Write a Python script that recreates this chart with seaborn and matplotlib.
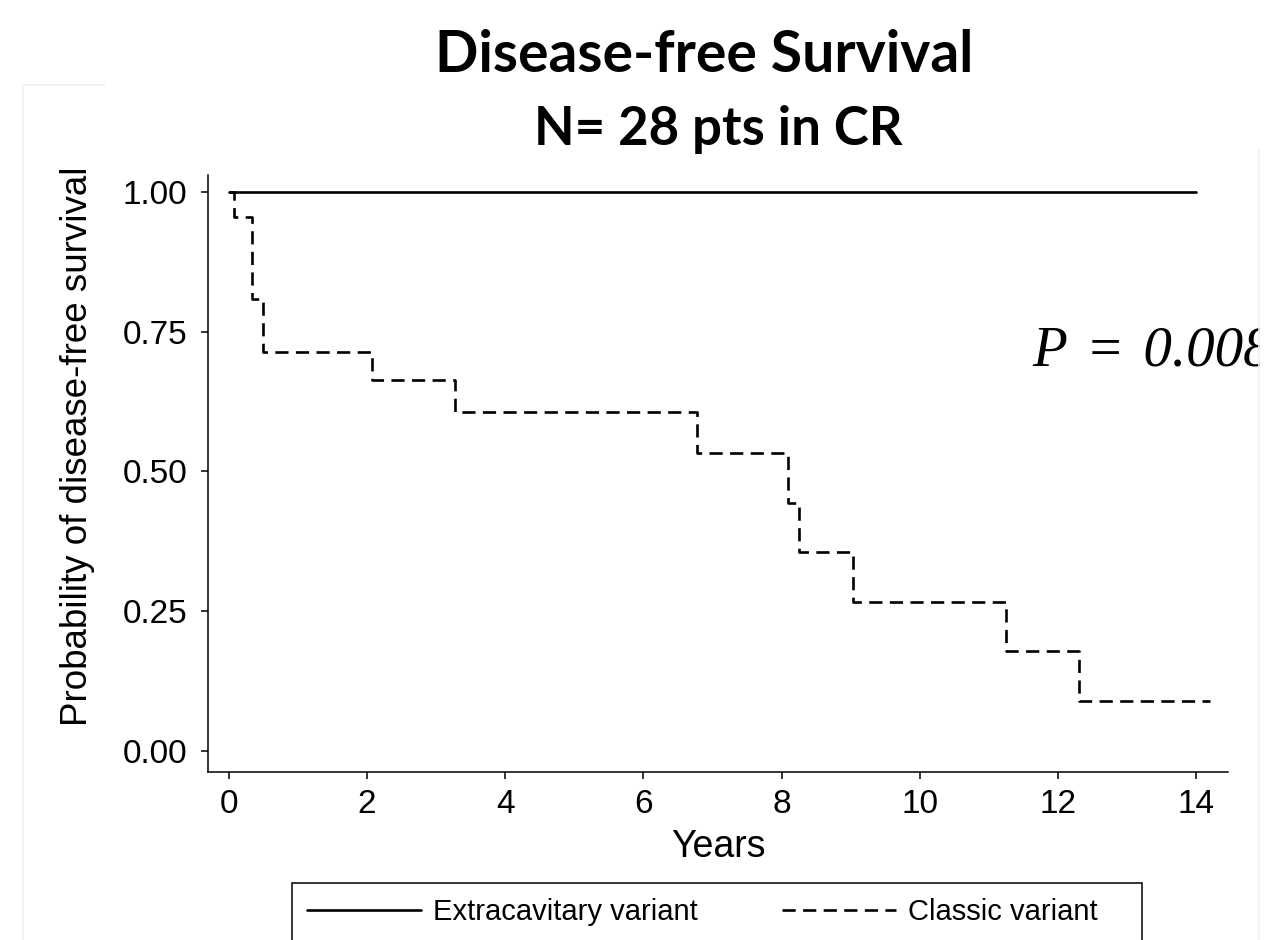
import pandas as pd
import seaborn as sns
import matplotlib.pyplot as plt
from matplotlib.lines import Line2D
from matplotlib.patches import Rectangle

# Kaplan-Meier step values
groups = ["Extracavitary variant", "Classic variant"]
extra_years = [0.0, 14.0]
extra_surv = [1.0, 1.0]
classic_years = [0.0, 0.07, 0.33, 0.50, 2.07, 3.27, 6.78, 8.10, 8.25, 9.03, 11.25, 12.30, 14.20]
classic_surv = [1.0, 0.955, 0.809, 0.714, 0.664, 0.607, 0.533, 0.444, 0.355, 0.266, 0.178, 0.089, 0.089]

x_ticks = [0, 2, 4, 6, 8, 10, 12, 14]
y_ticks = [0.0, 0.25, 0.50, 0.75, 1.0]
y_tick_labels = ["0.00", "0.25", "0.50", "0.75", "1.00"]

df = pd.concat([
    pd.DataFrame({"years": extra_years, "surv": extra_surv, "group": groups[0]}),
    pd.DataFrame({"years": classic_years, "surv": classic_surv, "group": groups[1]}),
])

sns.set_style("ticks")
plt.rcParams["font.family"] = ["Liberation Sans", "DejaVu Sans"]
plt.rcParams.update({"text.color": "black", "axes.labelcolor": "black",
                     "xtick.color": "black", "ytick.color": "black"})

W, H = 1282, 940
fig = plt.figure(figsize=(W / 100, H / 100), dpi=100)
ax = fig.add_axes([208 / W, 1 - 772 / H, (1228 - 208) / W, (772 - 175) / H])

dash_styles = {groups[0]: "", groups[1]: (5, 2.8)}
sns.lineplot(
    data=df, x="years", y="surv", hue="group", style="group",
    hue_order=groups, style_order=groups, palette=["black", "black"],
    dashes=dash_styles, drawstyle="steps-post", estimator=None, sort=False,
    linewidth=1.9, legend=False, ax=ax,
)

ax.set_xlim(-0.3, 14.46)
ax.set_ylim(-0.0375, 1.03)
ax.set_xticks(x_ticks)
ax.set_yticks(y_ticks)
ax.set_yticklabels(y_tick_labels)
sns.despine(ax=ax)
for s in ["left", "bottom"]:
    ax.spines[s].set_linewidth(1.1)
    ax.spines[s].set_color("black")
ax.tick_params(axis="both", length=5, width=1.1, color="black", labelsize=24)
ax.tick_params(axis="y", pad=10)
ax.tick_params(axis="x", pad=7)

ax.set_xlabel("Years", fontsize=27, va="center")
ax.xaxis.set_label_coords(0.5, (772 - 847) / 597)
ax.set_ylabel("Probability of disease-free survival", fontsize=26.5, va="center")
ax.yaxis.set_label_coords((78 - 208) / 1020, (772 - 446) / 597)

# title lines
fig.text(704 / W, 1 - 55 / H, "Disease-free Survival", ha="center", va="center",
         fontsize=41, fontweight="bold", family=["Lato", "DejaVu Sans"])
fig.text(718 / W, 1 - 130 / H, "N= 28 pts in CR", ha="center", va="center",
         fontsize=38, fontweight="bold", family=["Lato", "DejaVu Sans"])

# p-value (slightly wider spaces around "=")
fig.text(1032 / W, 1 - 365 / H, "P\u2004=\u20040.008", ha="left", va="baseline",
         fontsize=41, style="italic", family=["Liberation Serif", "DejaVu Serif"])

# slide frame (faint)
frame_col = "#eef1f1"
fig.patches.append(Rectangle((1260 / W, 0), 1, 1, transform=fig.transFigure,
                             facecolor="white", edgecolor="none", zorder=5))
fig.lines.append(Line2D([1259 / W, 1259 / W], [0, 1 - 148 / H], transform=fig.transFigure,
                        color=frame_col, lw=1.2, zorder=6))
fig.lines.append(Line2D([23 / W, 23 / W, 105 / W], [0, 1 - 85 / H, 1 - 85 / H],
                        transform=fig.transFigure, color=frame_col, lw=1.2, zorder=6))

# legend
handles = [Line2D([], [], color="black", lw=1.9),
           Line2D([], [], color="black", lw=1.9, dashes=(5, 2.8))]
fig.legend(handles, groups, loc="center left", bbox_to_anchor=(307 / W, 1 - 912 / H),
           ncol=2, frameon=False, fontsize=21, handlelength=3.9, handletextpad=0.41,
           columnspacing=2.9, borderpad=0, borderaxespad=0)
fig.patches.append(Rectangle((292 / W, -0.02), (1142 - 292) / W, 0.02 + 1 - 883 / H,
                             transform=fig.transFigure, facecolor="none",
                             edgecolor="black", lw=1.1))

fig.savefig("out.png", dpi=100)
